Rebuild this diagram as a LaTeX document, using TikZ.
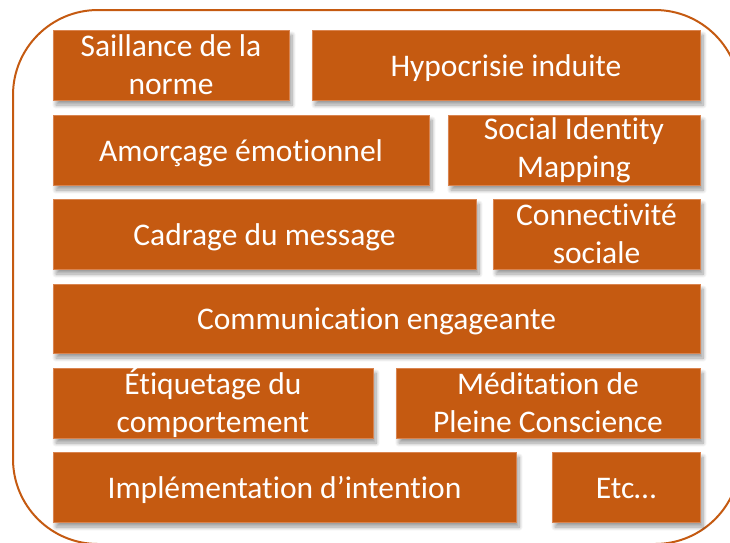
\documentclass[tikz,border=0pt]{standalone}
\usepackage{fontspec}
\setmainfont[Ligatures=NoCommon]{Carlito}
\usetikzlibrary{shadows.blur}
\definecolor{brn}{HTML}{C55A11}
\definecolor{brnedge}{HTML}{D98450}
\tikzset{
  box/.style={fill=brn, draw=brnedge, line width=0.4pt, inner sep=0pt, text=white,
    align=center, font=\fontsize{31.5}{38}\selectfont,
    blur shadow={shadow xshift=3pt, shadow yshift=-5pt, shadow blur steps=8, shadow blur radius=4pt, shadow opacity=40}},
  oneline/.style={text height=26pt, text depth=4pt},
  outer/.style={draw=brn, line width=2pt, rounded corners=85pt}
}
\begin{document}
\begin{tikzpicture}[x=1pt,y=-1pt]
\useasboundingbox (0,0) rectangle (730,542);
\draw[outer] (13,10) rectangle (740,544);
\node[box, minimum width=236pt, minimum height=70pt] (sail) at (171,65) {Saillance de la\\norme};
\node[box, oneline, minimum width=388pt, minimum height=70pt] (hypo) at (506,65) {Hypocrisie induite};
\node[box, oneline, minimum width=376pt, minimum height=70pt] (amor) at (241,150) {Amorçage émotionnel};
\node[box, minimum width=252pt, minimum height=70pt] (sim) at (574,150) {Social Identity\\Mapping};
\node[box, oneline, minimum width=423pt, minimum height=70pt] (cadr) at (264.5,234) {Cadrage du message};
\node[box, minimum width=207pt, minimum height=70pt] (conn) at (596.5,234) {Connectivité\\sociale};
\node[box, oneline, minimum width=647pt, minimum height=69pt] (comm) at (376.5,318.5) {Communication engageante};
\node[box, minimum width=320pt, minimum height=70pt] (etiq) at (213,403) {Étiquetage du\\comportement};
\node[box, minimum width=304pt, minimum height=70pt] (medi) at (548,403) {Méditation de\\Pleine Conscience};
\node[box, oneline, minimum width=463pt, minimum height=70pt] (impl) at (284.5,487) {Implémentation d’intention};
\node[box, oneline, minimum width=148pt, minimum height=70pt] (etc) at (626,487) {Etc…};
\end{tikzpicture}
\end{document}
